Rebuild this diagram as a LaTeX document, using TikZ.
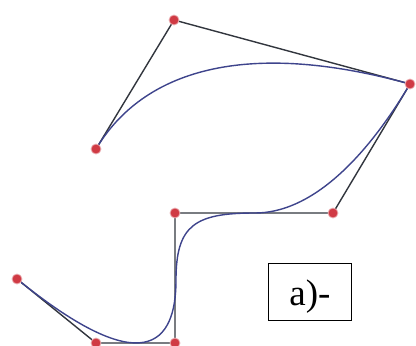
\documentclass[tikz,border=0pt]{standalone}
\usepackage{fontspec}
\setmainfont{Liberation Serif}
\definecolor{ptred}{RGB}{208,58,68}
\definecolor{polyc}{RGB}{50,54,62}
\definecolor{curvec}{RGB}{62,68,140}
\tikzset{
  ctrlpt/.style={circle, fill=ptred, draw=ptred!40, line width=0.8pt, inner sep=0pt, minimum size=10pt},
  polyline/.style={draw=polyc, line width=1.4pt},
  splinecurve/.style={draw=curvec, line width=1.4pt},
  labelbox/.style={draw=black, line width=1pt, minimum width=83pt, minimum height=57pt, inner sep=0pt,
    font=\fontsize{37}{42}\selectfont, text height=27pt, text depth=0pt}
}
\begin{document}
\begin{tikzpicture}[x=1pt, y=-1pt]
\useasboundingbox[fill=white] (0,0) rectangle (416,346);
% control points
\coordinate (p0) at (96,149);
\coordinate (p1) at (174,20);
\coordinate (p2) at (410,84);
\coordinate (p3) at (333,213);
\coordinate (p4) at (175,213);
\coordinate (p5) at (175,343);
\coordinate (p6) at (96,343);
\coordinate (p7) at (17,279);
% curve joints
\coordinate (q1) at (255,213);
\coordinate (q2) at (176,280);
% control polygon
\draw[polyline] (p0) -- (p1) -- (p2) -- (p3) -- (p4) -- (p5) -- (p6) -- (p7);
% curve
\draw[splinecurve] (p0) .. controls (142.8,70.6) and (244.8,38.5) .. (p2)
  .. controls (363.8,161.4) and (310,213) .. (q1)
  .. controls (195,213) and (176,225) .. (q2)
  .. controls (176,345) and (143.4,381.4) .. (p7);
% points
\foreach \i in {0,...,7} {
  \node[ctrlpt] (d\i) at (p\i) {};
}
% label
\node[labelbox] (lbl) at (310,292) {a)-};
\end{tikzpicture}
\end{document}
